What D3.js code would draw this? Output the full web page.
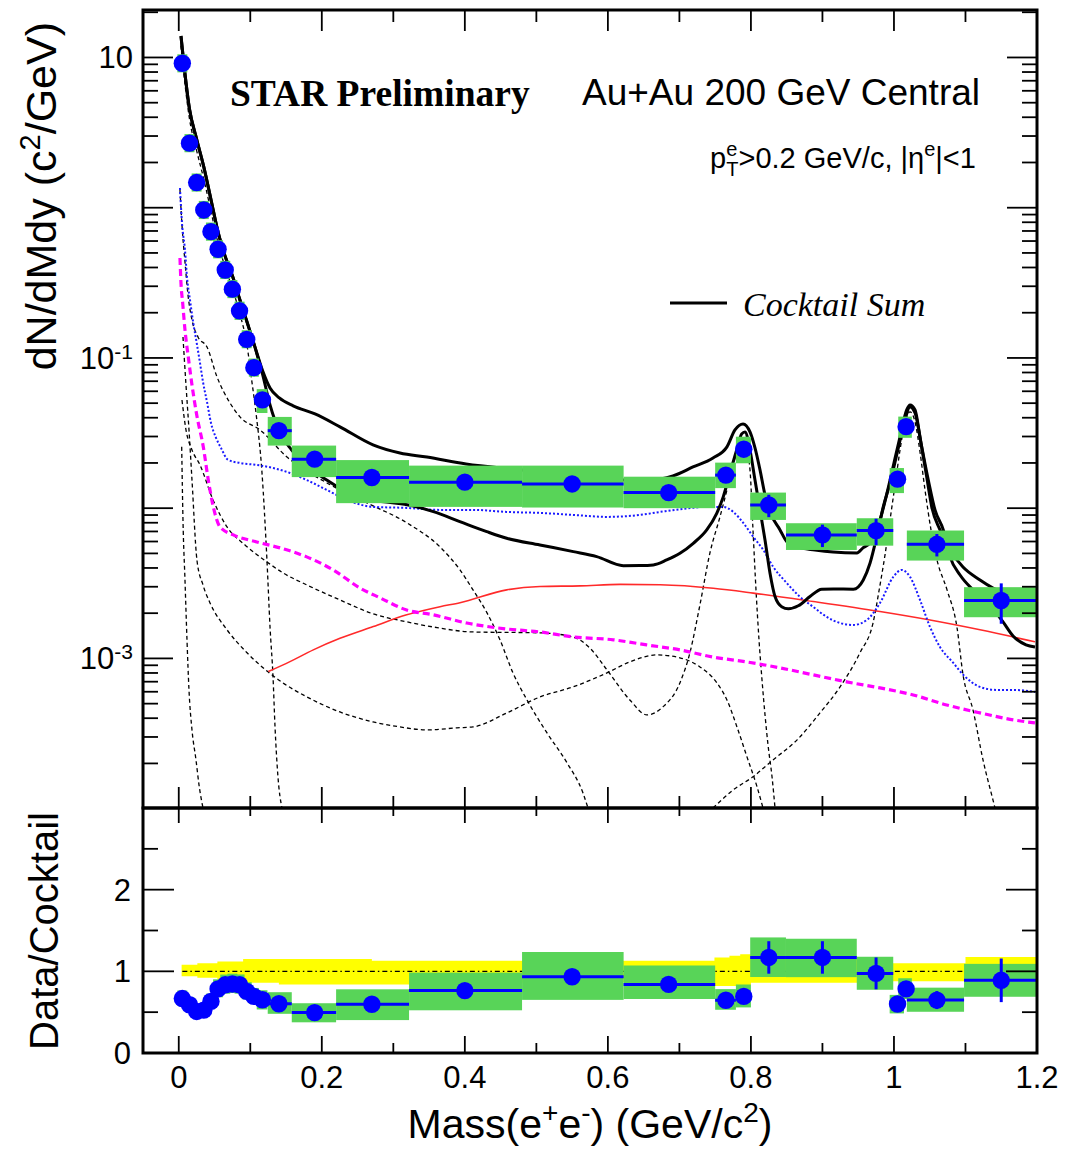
<!DOCTYPE html>
<html>
<head>
<meta charset="utf-8">
<script src="https://cdn.jsdelivr.net/npm/d3@7"></script>
<style>
body { margin: 0; background: #fff; }
svg { display: block; font-family: "Liberation Sans", Arial, sans-serif; }
</style>
</head>
<body>
<div id="chart"></div>
<script>
// measured dielectron points
var massPoints = [0.005, 0.015, 0.025, 0.035, 0.045, 0.055, 0.065, 0.075, 0.085, 0.095, 0.105, 0.117, 0.14, 0.19, 0.27, 0.40, 0.55, 0.685, 0.765, 0.79, 0.825, 0.90, 0.975, 1.005, 1.017, 1.06, 1.15];
var boxLow = [-0.002, 0.008, 0.018, 0.028, 0.038, 0.048, 0.058, 0.068, 0.078, 0.088, 0.098, 0.109, 0.1244, 0.158, 0.22, 0.322, 0.48, 0.622, 0.75, 0.779, 0.799, 0.849, 0.948, 0.994, 1.006, 1.018, 1.098];
var boxHigh = [0.012, 0.022, 0.032, 0.042, 0.052, 0.062, 0.072, 0.082, 0.092, 0.102, 0.112, 0.124, 0.158, 0.22, 0.322, 0.48, 0.622, 0.75, 0.779, 0.80, 0.849, 0.948, 0.999, 1.014, 1.025, 1.098, 1.2];
var yieldValues = [9.15, 2.69, 1.47, 0.966, 0.693, 0.529, 0.385, 0.287, 0.206, 0.133, 0.0862, 0.0526, 0.0328, 0.0212, 0.0160, 0.0149, 0.0145, 0.0127, 0.0166, 0.0247, 0.0105, 0.00664, 0.00709, 0.0156, 0.0349, 0.00575, 0.00243];
var sysLow = [7.96, 2.34, 1.28, 0.840, 0.603, 0.460, 0.335, 0.250, 0.179, 0.116, 0.0750, 0.043, 0.0261, 0.0161, 0.0108, 0.0102, 0.0101, 0.0100, 0.0136, 0.0199, 0.00835, 0.00527, 0.00563, 0.0126, 0.0294, 0.00448, 0.00188];
var sysHigh = [10.5, 3.09, 1.69, 1.11, 0.797, 0.608, 0.443, 0.330, 0.237, 0.153, 0.0991, 0.062, 0.0405, 0.0261, 0.0209, 0.0192, 0.0192, 0.0162, 0.0201, 0.0299, 0.0127, 0.00794, 0.00857, 0.0185, 0.0407, 0.0071, 0.00298];
var statRel = [0.03, 0.03, 0.03, 0.03, 0.03, 0.03, 0.03, 0.03, 0.03, 0.03, 0.03, 0.05, 0.05, 0.06, 0.07, 0.08, 0.09, 0.10, 0.10, 0.08, 0.17, 0.17, 0.20, 0.10, 0.08, 0.17, 0.30];
var ratioValues = [0.667, 0.591, 0.509, 0.525, 0.632, 0.785, 0.835, 0.845, 0.836, 0.754, 0.693, 0.652, 0.603, 0.495, 0.597, 0.764, 0.934, 0.840, 0.646, 0.693, 1.17, 1.17, 0.975, 0.60, 0.785, 0.648, 0.89];

// cocktail systematic band around 1
var bandMass = [0.004, 0.026, 0.054, 0.09, 0.14, 0.27, 0.48, 0.62, 0.749, 0.77, 0.785, 0.80, 0.95, 0.995, 1.10, 1.20];
var bandLow = [0.94, 0.92, 0.90, 0.86, 0.84, 0.84, 0.86, 0.87, 0.82, 0.82, 0.83, 0.86, 0.87, 0.88, 0.85, 0.85];
var bandHigh = [1.08, 1.10, 1.12, 1.15, 1.15, 1.13, 1.13, 1.13, 1.17, 1.19, 1.21, 1.16, 1.13, 1.10, 1.175, 1.175];

// cocktail curves [mass, dN/dMdy]
var lowMassSum = [[0.0031, 13.9], [0.015, 4.54], [0.0249, 2.87], [0.035, 1.87], [0.0451, 1.13], [0.0549, 0.690], [0.0647, 0.478], [0.075, 0.352], [0.0851, 0.247], [0.095, 0.176], [0.1052, 0.124]];
var cocktailSumA = [[0.1174, 0.0818], [0.1276, 0.0631], [0.1406, 0.0542], [0.160, 0.0480], [0.1905, 0.0424], [0.2254, 0.0348], [0.2716, 0.0264], [0.3093, 0.0233], [0.347, 0.0219], [0.4016, 0.0197], [0.477, 0.0180], [0.551, 0.0164], [0.617, 0.0154], [0.659, 0.0154], [0.691, 0.0164], [0.719, 0.0188], [0.747, 0.0216], [0.7665, 0.0256], [0.7777, 0.0332], [0.789, 0.0364], [0.7987, 0.0322], [0.8057, 0.0252], [0.8127, 0.0180], [0.8197, 0.01225], [0.8267, 0.00944], [0.8407, 0.00717], [0.8505, 0.00596], [0.8644, 0.00552], [0.8896, 0.00527], [0.9148, 0.00511], [0.9483, 0.00504], [0.9567, 0.00544], [0.9665, 0.00587], [0.9805, 0.00835], [0.9903, 0.01263], [0.9987, 0.0188], [1.0085, 0.0298], [1.0178, 0.0451], [1.0225, 0.0487], [1.0295, 0.0451], [1.0364, 0.0298], [1.0458, 0.0161], [1.0528, 0.0102], [1.0644, 0.00717], [1.0784, 0.00527], [1.0965, 0.00406], [1.1203, 0.00333], [1.1385, 0.00294], [1.1692, 0.00253], [1.2, 0.00220]];
var cocktailSumB = [[0.1174, 0.0771], [0.1276, 0.0487], [0.1416, 0.0317], [0.1579, 0.0244], [0.1835, 0.0185], [0.2069, 0.0154], [0.244, 0.01225], [0.272, 0.01135], [0.328, 0.01035], [0.356, 0.00948], [0.393, 0.00814], [0.4306, 0.00698], [0.4585, 0.00631], [0.505, 0.00569], [0.5517, 0.00514], [0.5844, 0.00476], [0.6216, 0.00414], [0.6449, 0.00415], [0.6635, 0.00419], [0.6822, 0.00452], [0.7008, 0.00501], [0.7194, 0.00584], [0.7382, 0.00717], [0.7522, 0.00925], [0.7614, 0.01194], [0.7707, 0.0171], [0.7801, 0.0244], [0.7871, 0.0312], [0.7917, 0.0322], [0.7987, 0.0244], [0.8057, 0.0154], [0.8127, 0.00974], [0.8197, 0.00615], [0.8267, 0.00369], [0.8337, 0.00258], [0.843, 0.00221], [0.8523, 0.00214], [0.8662, 0.00224], [0.8826, 0.00258], [0.899, 0.00289], [0.9152, 0.00290], [0.9432, 0.00289], [0.9571, 0.00333], [0.9665, 0.00430], [0.9759, 0.00646], [0.9851, 0.01024], [0.9945, 0.01466], [1.0038, 0.0226], [1.0131, 0.0348], [1.0225, 0.0472], [1.0295, 0.0430], [1.0388, 0.0256], [1.048, 0.0154], [1.0574, 0.00974], [1.069, 0.00717], [1.0784, 0.00474], [1.0924, 0.00359], [1.1105, 0.00286], [1.1343, 0.00227], [1.1525, 0.00175], [1.1665, 0.00141], [1.1846, 0.00123], [1.1972, 0.00119]];
var blueDotted = [[0.0017, 1.353], [0.0045, 0.792], [0.0087, 0.523], [0.0115, 0.346], [0.0157, 0.243], [0.0203, 0.171], [0.0251, 0.1258], [0.0297, 0.0926], [0.0339, 0.0692], [0.0395, 0.0509], [0.0451, 0.0369], [0.0521, 0.0294], [0.059, 0.0252], [0.0688, 0.0210], [0.0856, 0.0200], [0.109, 0.0194], [0.1322, 0.0185], [0.1555, 0.01716], [0.1789, 0.0154], [0.2069, 0.01323], [0.2348, 0.01135], [0.272, 0.0102], [0.3187, 0.01004], [0.3653, 0.00974], [0.4118, 0.00974], [0.4585, 0.00944], [0.5051, 0.00930], [0.5517, 0.00902], [0.5984, 0.00875], [0.6449, 0.00902], [0.6729, 0.00944], [0.7055, 0.00989], [0.7382, 0.0102], [0.7614, 0.0102], [0.7754, 0.00944], [0.7893, 0.00798], [0.8033, 0.00644], [0.8173, 0.00527], [0.8313, 0.00406], [0.85, 0.00318], [0.8686, 0.00257], [0.8872, 0.00220], [0.906, 0.00189], [0.9246, 0.00172], [0.9432, 0.00167], [0.9619, 0.00180], [0.9805, 0.00234], [0.9991, 0.00349], [1.0108, 0.00388], [1.0225, 0.00349], [1.0364, 0.00245], [1.0504, 0.00162], [1.0644, 0.00119], [1.083, 0.000933], [1.097, 0.000777], [1.1203, 0.000646], [1.1437, 0.000617], [1.1669, 0.000617], [1.1972, 0.000598]];
var magentaDashed = [[0.0017, 0.463], [0.0031, 0.316], [0.0055, 0.232], [0.0087, 0.1536], [0.0133, 0.1016], [0.0181, 0.0682], [0.0251, 0.0418], [0.0343, 0.0256], [0.0413, 0.0154], [0.0483, 0.0102], [0.0577, 0.00750], [0.0763, 0.00664], [0.109, 0.00596], [0.1416, 0.00544], [0.1789, 0.00474], [0.2161, 0.00388], [0.2534, 0.00294], [0.2814, 0.00253], [0.3187, 0.00210], [0.3559, 0.00195], [0.4026, 0.00172], [0.4585, 0.00157], [0.5051, 0.00150], [0.5517, 0.00139], [0.6076, 0.00133], [0.6543, 0.00123], [0.7009, 0.00114], [0.7474, 0.00102], [0.7941, 0.000948], [0.8407, 0.000865], [0.8872, 0.000777], [0.9339, 0.000698], [0.9805, 0.000636], [1.027, 0.000571], [1.0737, 0.000490], [1.1203, 0.000434], [1.1669, 0.000390], [1.1972, 0.000372]];
var redSolid = [[0.1252, 0.000817], [0.1555, 0.000952], [0.1881, 0.00114], [0.2254, 0.00136], [0.272, 0.00163], [0.3187, 0.00195], [0.3653, 0.00221], [0.3932, 0.00235], [0.4585, 0.00286], [0.5051, 0.00301], [0.561, 0.00304], [0.617, 0.00311], [0.6729, 0.00309], [0.7474, 0.00293], [0.8033, 0.00272], [0.8872, 0.00239], [0.9805, 0.00205], [1.0504, 0.00180], [1.1203, 0.00155], [1.1972, 0.00129]];
var pionDalitz = [[0.003, 12.0], [0.015, 3.9], [0.025, 2.4], [0.035, 1.55], [0.045, 0.95], [0.055, 0.58], [0.065, 0.40], [0.075, 0.29], [0.085, 0.20], [0.095, 0.125], [0.102, 0.071], [0.108, 0.043], [0.1164, 0.01716], [0.1233, 0.00452], [0.1276, 0.00162], [0.1318, 0.000753], [0.1346, 0.000350], [0.1387, 0.000163], [0.1443, 0.000101]];
var steepDashed = [[0.0041, 0.0256], [0.0059, 0.00835], [0.0087, 0.00333], [0.0115, 0.00133], [0.0143, 0.000617], [0.0185, 0.000334], [0.0241, 0.000211], [0.0283, 0.000144], [0.0339, 0.000101]];
var broadDashed = [[0.0059, 0.138], [0.0101, 0.0661], [0.0143, 0.0332], [0.0185, 0.0154], [0.0254, 0.00452], [0.0339, 0.00308], [0.0437, 0.00234], [0.0675, 0.00155], [0.0955, 0.00109], [0.1248, 0.000814], [0.1457, 0.000687], [0.1793, 0.000554], [0.2254, 0.000440], [0.2716, 0.000378], [0.3093, 0.000350], [0.3471, 0.000334], [0.3891, 0.000345], [0.4114, 0.000350], [0.4589, 0.000434], [0.505, 0.000554], [0.5512, 0.000646], [0.5988, 0.000801], [0.6307, 0.000948], [0.6687, 0.001055], [0.7007, 0.00101], [0.7287, 0.000878], [0.7525, 0.000687], [0.7665, 0.000529], [0.7805, 0.000350], [0.7945, 0.000221], [0.8085, 0.000140], [0.8169, 0.000101]];
var etaDalitz = [[0.0017, 1.313], [0.0045, 0.768], [0.0087, 0.435], [0.0129, 0.263], [0.0185, 0.179], [0.0269, 0.138], [0.0395, 0.1183], [0.0535, 0.0747], [0.0716, 0.0502], [0.0856, 0.0405], [0.1136, 0.0332], [0.1513, 0.0219], [0.2073, 0.01472], [0.2632, 0.01083], [0.3191, 0.00798], [0.3653, 0.00552], [0.3932, 0.00388], [0.4114, 0.00286], [0.431, 0.00201], [0.4491, 0.00133], [0.4673, 0.000801], [0.4869, 0.000529], [0.5149, 0.000319], [0.5428, 0.000202], [0.5652, 0.000127], [0.5722, 0.000101]];
var omegaDashed = [[0.0045, 0.0525], [0.0101, 0.0332], [0.0185, 0.0244], [0.0297, 0.0194], [0.0479, 0.01135], [0.0675, 0.00750], [0.0926, 0.00569], [0.1233, 0.00439], [0.1457, 0.00371], [0.1793, 0.00308], [0.2254, 0.00245], [0.2716, 0.00198], [0.3191, 0.00175], [0.3555, 0.00162], [0.4114, 0.00150], [0.505, 0.00148], [0.5512, 0.00139], [0.575, 0.00117], [0.5988, 0.000838], [0.6307, 0.000529], [0.6545, 0.000421], [0.6768, 0.000475], [0.7007, 0.000687], [0.7147, 0.00109], [0.7287, 0.00227], [0.7427, 0.00504], [0.7567, 0.00875], [0.7665, 0.01323], [0.7749, 0.0194], [0.7847, 0.0264], [0.7917, 0.0276], [0.7987, 0.0180], [0.8029, 0.00717], [0.8071, 0.00286], [0.8113, 0.00133], [0.8155, 0.000719], [0.8197, 0.000421], [0.8239, 0.000266], [0.8295, 0.000163], [0.8337, 0.000101]];
var phiDashed = [[0.747, 0.000101], [0.775, 0.000133], [0.8029, 0.000163], [0.8309, 0.000211], [0.8646, 0.000287], [0.8966, 0.000434], [0.9246, 0.000646], [0.9525, 0.00109], [0.9707, 0.00172], [0.9805, 0.00308], [0.9875, 0.00489], [0.9945, 0.00835], [1.0015, 0.01428], [1.0085, 0.0244], [1.0155, 0.0375], [1.0225, 0.0437], [1.0295, 0.0375], [1.0364, 0.0237], [1.0434, 0.01323], [1.0518, 0.00717], [1.0602, 0.00452], [1.0742, 0.00286], [1.0882, 0.00160], [1.0966, 0.000777], [1.1105, 0.000454], [1.1245, 0.000211], [1.1385, 0.000114], [1.1413, 0.000101]];

var xTickValues = [0, 0.2, 0.4, 0.6, 0.8, 1, 1.2];
var xTickLabels = ["0", "0.2", "0.4", "0.6", "0.8", "1", "1.2"];
var yTopLabelValues = [10, 0.1, 0.001];
var yTopLabelExponents = ["", "-1", "-3"];
var yRatioTickValues = [0, 1, 2];

var svg = d3.select("#chart").append("svg")
    .attr("width", 1070)
    .attr("height", 1150);

var x = d3.scaleLinear().domain([-0.05, 1.2]).range([143, 1037]);
var yTop = d3.scaleLog().domain([1.01e-4, 20.7]).range([808, 10]);
var yRatio = d3.scaleLinear().domain([0, 3]).range([1053, 808]);

var defs = svg.append("defs");
defs.append("clipPath").attr("id", "clipTop").append("rect")
    .attr("x", 143).attr("y", 10).attr("width", 894).attr("height", 798);
defs.append("clipPath").attr("id", "clipBottom").append("rect")
    .attr("x", 143).attr("y", 808).attr("width", 894).attr("height", 245);

var green = "#58d458";
var blue = "#0000ff";

// ---------- top panel ----------
var topLayer = svg.append("g").attr("clip-path", "url(#clipTop)");

function drawCurve(points, color, strokeWidth, dash) {
    var line = d3.line()
        .x(function (d) { return x(d[0]); })
        .y(function (d) { return yTop(d[1]); })
        .curve(d3.curveMonotoneX);
    var path = topLayer.append("path")
        .datum(points)
        .attr("d", line)
        .attr("fill", "none")
        .attr("stroke", color)
        .attr("stroke-width", strokeWidth)
        .attr("stroke-linejoin", "round");
    if (dash)
        path.attr("stroke-dasharray", dash);
}

drawCurve(steepDashed, "#000", 1.3, "4,3");
drawCurve(pionDalitz, "#000", 1.3, "4,3");
drawCurve(broadDashed, "#000", 1.3, "4,3");
drawCurve(etaDalitz, "#000", 1.3, "4,3");
drawCurve(omegaDashed, "#000", 1.3, "4,3");
drawCurve(phiDashed, "#000", 1.3, "4,3");
drawCurve(redSolid, "#ff2a2a", 1.6, null);
drawCurve(magentaDashed, "#ff00ff", 3.2, "7,4");
drawCurve(blueDotted, "#1a1aff", 2, "2,2");
drawCurve(lowMassSum.concat(cocktailSumB), "#000", 3, null);
drawCurve(lowMassSum.concat(cocktailSumA), "#000", 3, null);

var points = massPoints.map(function (m, i) {
    return {
        m: m, lo: boxLow[i], hi: boxHigh[i], v: yieldValues[i],
        sLo: sysLow[i], sHi: sysHigh[i], stat: statRel[i], r: ratioValues[i]
    };
});

topLayer.selectAll("rect.sys").data(points).enter().append("rect")
    .attr("class", "sys")
    .attr("x", function (d) { return x(d.lo); })
    .attr("width", function (d) { return x(d.hi) - x(d.lo); })
    .attr("y", function (d) { return yTop(d.sHi); })
    .attr("height", function (d) { return yTop(d.sLo) - yTop(d.sHi); })
    .attr("fill", green);

topLayer.selectAll("line.hbar").data(points).enter().append("line")
    .attr("x1", function (d) { return x(d.lo); })
    .attr("x2", function (d) { return x(d.hi); })
    .attr("y1", function (d) { return yTop(d.v); })
    .attr("y2", function (d) { return yTop(d.v); })
    .attr("stroke", blue).attr("stroke-width", 3);

topLayer.selectAll("line.vbar").data(points).enter().append("line")
    .attr("x1", function (d) { return x(d.m); })
    .attr("x2", function (d) { return x(d.m); })
    .attr("y1", function (d) { return yTop(d.v * (1 + d.stat)); })
    .attr("y2", function (d) { return yTop(d.v * (1 - d.stat)); })
    .attr("stroke", blue).attr("stroke-width", 3);

topLayer.selectAll("circle.pt").data(points).enter().append("circle")
    .attr("cx", function (d) { return x(d.m); })
    .attr("cy", function (d) { return yTop(d.v); })
    .attr("r", 8.7)
    .attr("fill", blue);

// ---------- ratio panel ----------
var botLayer = svg.append("g").attr("clip-path", "url(#clipBottom)");

var band = bandMass.map(function (m, i) { return [m, bandLow[i], bandHigh[i]]; });
botLayer.append("path")
    .datum(band)
    .attr("d", d3.area()
        .x(function (d) { return x(d[0]); })
        .y0(function (d) { return yRatio(d[1]); })
        .y1(function (d) { return yRatio(d[2]); })
        .curve(d3.curveStepAfter))
    .attr("fill", "#ffff00");

botLayer.append("line")
    .attr("x1", x(0.005)).attr("x2", x(1.2))
    .attr("y1", yRatio(1)).attr("y2", yRatio(1))
    .attr("stroke", "#000").attr("stroke-width", 1.3)
    .attr("stroke-dasharray", "5,3,1.5,3");

botLayer.selectAll("rect.sys").data(points).enter().append("rect")
    .attr("x", function (d) { return x(d.lo); })
    .attr("width", function (d) { return x(d.hi) - x(d.lo); })
    .attr("y", function (d) { return yRatio(d.r * d.sHi / d.v); })
    .attr("height", function (d) { return yRatio(d.r * d.sLo / d.v) - yRatio(d.r * d.sHi / d.v); })
    .attr("fill", green);

botLayer.selectAll("line.hbar").data(points).enter().append("line")
    .attr("x1", function (d) { return x(d.lo); })
    .attr("x2", function (d) { return x(d.hi); })
    .attr("y1", function (d) { return yRatio(d.r); })
    .attr("y2", function (d) { return yRatio(d.r); })
    .attr("stroke", blue).attr("stroke-width", 3);

botLayer.selectAll("line.vbar").data(points).enter().append("line")
    .attr("x1", function (d) { return x(d.m); })
    .attr("x2", function (d) { return x(d.m); })
    .attr("y1", function (d) { return yRatio(d.r * (1 + d.stat)); })
    .attr("y2", function (d) { return yRatio(d.r * (1 - d.stat)); })
    .attr("stroke", blue).attr("stroke-width", 3);

botLayer.selectAll("circle.pt").data(points).enter().append("circle")
    .attr("cx", function (d) { return x(d.m); })
    .attr("cy", function (d) { return yRatio(d.r); })
    .attr("r", 8.7)
    .attr("fill", blue);

// ---------- frames and ticks ----------
var axes = svg.append("g").attr("stroke", "#000").attr("stroke-width", 1.8);

function xTicksAt(yEdge, dir, majorLen, minorLen) {
    d3.range(0, 13).forEach(function (k) {
        var v = k / 10;
        var len = (k % 2 == 0) ? majorLen : minorLen;
        axes.append("line")
            .attr("x1", x(v)).attr("x2", x(v))
            .attr("y1", yEdge).attr("y2", yEdge + dir * len);
    });
}
xTicksAt(10, 1, 21, 12);
xTicksAt(808, -1, 21, 12);
xTicksAt(808, 1, 15, 8);
xTicksAt(1053, -1, 17, 10);

for (var p = -4; p <= 1; p++) {
    for (var j = 1; j <= 9; j++) {
        var tv = j * Math.pow(10, p);
        if (tv < 1.01e-4 || tv > 20.7) continue;
        var tl = (j == 1) ? 30 : 15;
        axes.append("line").attr("x1", 143).attr("x2", 143 + tl)
            .attr("y1", yTop(tv)).attr("y2", yTop(tv));
        axes.append("line").attr("x1", 1037).attr("x2", 1037 - tl)
            .attr("y1", yTop(tv)).attr("y2", yTop(tv));
    }
}

d3.range(0, 6).forEach(function (k) {
    var v = k / 2;
    var len = (k % 2 == 0) ? 31 : 15;
    axes.append("line").attr("x1", 143).attr("x2", 143 + len)
        .attr("y1", yRatio(v)).attr("y2", yRatio(v));
    axes.append("line").attr("x1", 1037).attr("x2", 1037 - len)
        .attr("y1", yRatio(v)).attr("y2", yRatio(v));
});

svg.append("rect").attr("x", 143).attr("y", 10).attr("width", 894).attr("height", 798)
    .attr("fill", "none").attr("stroke", "#000").attr("stroke-width", 3);
svg.append("rect").attr("x", 143).attr("y", 808).attr("width", 894).attr("height", 245)
    .attr("fill", "none").attr("stroke", "#000").attr("stroke-width", 3);

// ---------- tick labels ----------
xTickValues.forEach(function (v, i) {
    svg.append("text")
        .attr("x", x(v)).attr("y", 1088)
        .attr("text-anchor", "middle")
        .style("font-size", "31px")
        .text(xTickLabels[i]);
});

yTopLabelValues.forEach(function (v, i) {
    var t = svg.append("text")
        .attr("x", 133).attr("y", yTop(v))
        .attr("dy", "0.35em")
        .attr("text-anchor", "end")
        .style("font-size", "31px")
        .text("10");
    if (yTopLabelExponents[i])
        t.append("tspan").attr("dy", -10).style("font-size", "21px").text(yTopLabelExponents[i]);
});

yRatioTickValues.forEach(function (v) {
    svg.append("text")
        .attr("x", 131).attr("y", yRatio(v))
        .attr("dy", "0.35em")
        .attr("text-anchor", "end")
        .style("font-size", "31px")
        .text(String(v));
});

// ---------- axis titles ----------
var yTitle = svg.append("text")
    .attr("transform", "translate(56,22) rotate(-90)")
    .attr("text-anchor", "end")
    .style("font-size", "43px")
    .text("dN/dMdy (c");
yTitle.append("tspan").attr("dy", -16).style("font-size", "29px").text("2");
yTitle.append("tspan").attr("dy", 16).text("/GeV)");

svg.append("text")
    .attr("transform", "translate(58,931) rotate(-90)")
    .attr("text-anchor", "middle")
    .style("font-size", "40px")
    .text("Data/Cocktail");

var xTitle = svg.append("text")
    .attr("x", 590).attr("y", 1138)
    .attr("text-anchor", "middle")
    .style("font-size", "41px")
    .text("Mass(e");
xTitle.append("tspan").attr("dy", -16).style("font-size", "28px").text("+");
xTitle.append("tspan").attr("dy", 16).text("e");
xTitle.append("tspan").attr("dy", -16).style("font-size", "28px").text("-");
xTitle.append("tspan").attr("dy", 16).text(") (GeV/c");
xTitle.append("tspan").attr("dy", -16).style("font-size", "28px").text("2");
xTitle.append("tspan").attr("dy", 16).text(")");

// ---------- annotations ----------
svg.append("text")
    .attr("x", 230).attr("y", 106)
    .style("font-family", "'Liberation Serif', 'Times New Roman', serif")
    .style("font-weight", "bold")
    .style("font-size", "37.5px")
    .text("STAR Preliminary");

svg.append("text")
    .attr("x", 582).attr("y", 105)
    .style("font-size", "37px")
    .text("Au+Au 200 GeV Central");

var cut = svg.append("text")
    .attr("x", 710).attr("y", 168)
    .style("font-size", "29px")
    .text("p");
cut.append("tspan").attr("dy", -12).style("font-size", "20px").text("e");
cut.append("tspan").attr("dx", -11).attr("dy", 20).style("font-size", "20px").text("T");
cut.append("tspan").attr("dy", -8).text(">0.2 GeV/c, |\u03b7");
cut.append("tspan").attr("dy", -12).style("font-size", "20px").text("e");
cut.append("tspan").attr("dy", 12).text("|<1");

svg.append("line")
    .attr("x1", 670).attr("x2", 727)
    .attr("y1", 303).attr("y2", 303)
    .attr("stroke", "#000").attr("stroke-width", 3);
svg.append("text")
    .attr("x", 743).attr("y", 316)
    .style("font-family", "'Liberation Serif', 'Times New Roman', serif")
    .style("font-style", "italic")
    .style("font-size", "34px")
    .text("Cocktail Sum");
</script>
</body>
</html>
